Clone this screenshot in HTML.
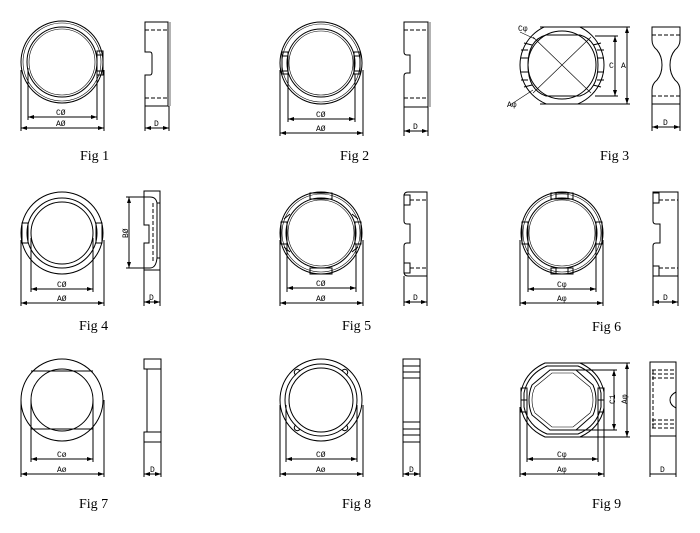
<!DOCTYPE html>
<html><head><meta charset="utf-8"><style>
html,body{margin:0;padding:0;background:#fff;width:700px;height:533px;overflow:hidden}
svg{display:block}
.l{fill:none;stroke:#000;stroke-width:1}
.t{stroke:#000;stroke-width:0.6;fill:none}
.d{fill:none;stroke:#000;stroke-width:1;stroke-dasharray:4 2}
.dim{font-family:"Liberation Mono",monospace;font-size:8px;fill:#000}
.fig{font-family:"Liberation Serif",serif;font-size:14px;fill:#000}
</style></head><body>
<svg width="700" height="533" viewBox="0 0 700 533" xmlns="http://www.w3.org/2000/svg">
<defs>
<marker id="a" markerWidth="6" markerHeight="4" refX="6" refY="2" orient="auto-start-reverse"><path d="M0,0 L6,2 L0,4 z" fill="#000"/></marker>
<clipPath id="c3"><rect x="500" y="27" width="120" height="77"/></clipPath>
</defs>

<!-- ===== Fig 1 ===== -->
<circle class="l" cx="62" cy="62" r="41"/>
<circle class="t" cx="62" cy="62" r="39"/>
<circle class="l" cx="62" cy="62" r="35"/>
<circle class="t" cx="62" cy="62" r="33"/>
<rect class="l" x="97" y="51" width="6" height="24"/>
<line class="l" x1="97" y1="55" x2="103" y2="55"/><line class="l" x1="97" y1="71" x2="103" y2="71"/>
<line class="l" x1="21" y1="70" x2="21" y2="131"/><line class="l" x1="104" y1="70" x2="104" y2="131"/>
<line class="l" x1="28" y1="68" x2="28" y2="120"/><line class="l" x1="97" y1="75" x2="97" y2="120"/>
<line class="l" x1="28" y1="117" x2="97" y2="117" marker-start="url(#a)" marker-end="url(#a)"/>
<line class="l" x1="21" y1="128" x2="104" y2="128" marker-start="url(#a)" marker-end="url(#a)"/>
<text class="dim" x="56" y="115">CØ</text><text class="dim" x="56" y="126">AØ</text>
<path class="l" d="M145,22 H168 V106 H145 V75 H150 Q152,75 152,72 V55 Q152,52 150,52 H145 Z"/>
<line class="t" x1="170" y1="22" x2="170" y2="106"/>
<line class="d" x1="145" y1="30" x2="168" y2="30"/><line class="d" x1="145" y1="98" x2="168" y2="98"/>
<line class="l" x1="145" y1="106" x2="145" y2="131"/><line class="l" x1="169" y1="106" x2="169" y2="131"/>
<line class="l" x1="145" y1="128" x2="169" y2="128" marker-start="url(#a)" marker-end="url(#a)"/>
<text class="dim" x="154" y="126">D</text>
<text class="fig" x="80" y="160">Fig 1</text>

<!-- ===== Fig 2 ===== -->
<circle class="l" cx="321" cy="63" r="41"/>
<circle class="t" cx="321" cy="63" r="39"/>
<circle class="l" cx="321" cy="63" r="34"/>
<circle class="t" cx="321" cy="63" r="32"/>
<rect class="l" x="282" y="52" width="6" height="22"/><rect class="l" x="354" y="52" width="6" height="22"/>
<line class="l" x1="282" y1="56" x2="288" y2="56"/><line class="l" x1="354" y1="56" x2="360" y2="56"/>
<line class="l" x1="282" y1="71" x2="288" y2="71"/><line class="l" x1="354" y1="71" x2="360" y2="71"/>
<line class="l" x1="280" y1="70" x2="280" y2="136"/><line class="l" x1="363" y1="70" x2="363" y2="136"/>
<line class="l" x1="288" y1="74" x2="288" y2="122"/><line class="l" x1="355" y1="74" x2="355" y2="122"/>
<line class="l" x1="288" y1="119" x2="355" y2="119" marker-start="url(#a)" marker-end="url(#a)"/>
<line class="l" x1="280" y1="133" x2="363" y2="133" marker-start="url(#a)" marker-end="url(#a)"/>
<text class="dim" x="316" y="117">CØ</text><text class="dim" x="316" y="131">AØ</text>
<path class="l" d="M404,22 H428 V107 H404 V76 Q404,73 407,73 H410 V55 H407 Q404,55 404,52 Z"/>
<line class="t" x1="430" y1="22" x2="430" y2="107"/>
<line class="d" x1="404" y1="30" x2="428" y2="30"/><line class="d" x1="404" y1="98" x2="428" y2="98"/>
<line class="l" x1="404" y1="107" x2="404" y2="136"/><line class="l" x1="428" y1="107" x2="428" y2="136"/>
<line class="l" x1="404" y1="131" x2="428" y2="131" marker-start="url(#a)" marker-end="url(#a)"/>
<text class="dim" x="413" y="129">D</text>
<text class="fig" x="340" y="160">Fig 2</text>

<!-- ===== Fig 3 ===== -->
<path class="l" d="M540,27 H604 M540,104 H604"/>
<circle class="l" cx="562" cy="65" r="42" clip-path="url(#c3)"/>
<circle class="l" cx="562" cy="65" r="34" clip-path="url(#c3)"/>
<path class="l" d="M546,35 H580 Q598,40 598,65 Q598,90 580,96 H546 Q528,90 528,65 Q528,40 546,35 Z"/>
<path class="l" d="M521,50 H528 M521,58 H528 M521,72 H528 M521,80 H528 M597,50 H604 M597,58 H604 M597,72 H604 M597,80 H604"/>
<path class="l" d="M524,43 L532,45 M524,87 L532,85 M601,43 L593,45 M601,87 L593,85" stroke-width="2"/>
<line class="t" x1="533" y1="37" x2="591" y2="93"/><line class="t" x1="591" y1="37" x2="533" y2="93"/>
<line class="t" x1="520" y1="32" x2="535" y2="39"/><line class="t" x1="510" y1="105" x2="533" y2="90"/>
<text class="dim" x="518" y="31">Cφ</text><text class="dim" x="507" y="107">Aφ</text>
<line class="l" x1="595" y1="36" x2="618" y2="36"/><line class="l" x1="595" y1="96" x2="618" y2="96"/>
<line class="l" x1="604" y1="27" x2="630" y2="27"/><line class="l" x1="604" y1="104" x2="630" y2="104"/>
<line class="l" x1="615" y1="36" x2="615" y2="96" marker-start="url(#a)" marker-end="url(#a)"/>
<line class="l" x1="627" y1="27" x2="627" y2="104" marker-start="url(#a)" marker-end="url(#a)"/>
<text class="dim" x="609" y="68">C</text><text class="dim" x="621" y="68">A</text>
<path class="l" d="M652,27 H680 V40 Q680,46 675,50 Q670,56 670,65 Q670,74 675,80 Q680,84 680,90 V104 H652 V90 Q652,84 657,80 Q662,74 662,65 Q662,56 657,50 Q652,46 652,40 Z"/>
<line class="d" x1="652" y1="35" x2="680" y2="35"/><line class="d" x1="652" y1="96" x2="680" y2="96"/>
<line class="l" x1="652" y1="104" x2="652" y2="131"/><line class="l" x1="680" y1="104" x2="680" y2="131"/>
<line class="l" x1="652" y1="127" x2="680" y2="127" marker-start="url(#a)" marker-end="url(#a)"/>
<text class="dim" x="663" y="125">D</text>
<text class="fig" x="600" y="160">Fig 3</text>

<!-- ===== Fig 4 ===== -->
<circle class="l" cx="62" cy="233" r="41"/>
<circle class="l" cx="62" cy="233" r="35"/>
<circle class="l" cx="62" cy="233" r="31"/>
<rect class="l" x="22" y="223" width="6" height="20"/><rect class="l" x="96" y="223" width="6" height="20"/>
<line class="l" x1="21" y1="240" x2="21" y2="306"/><line class="l" x1="104" y1="240" x2="104" y2="306"/>
<line class="l" x1="31" y1="238" x2="31" y2="292"/><line class="l" x1="93" y1="238" x2="93" y2="292"/>
<line class="l" x1="31" y1="289" x2="93" y2="289" marker-start="url(#a)" marker-end="url(#a)"/>
<line class="l" x1="21" y1="303" x2="104" y2="303" marker-start="url(#a)" marker-end="url(#a)"/>
<text class="dim" x="57" y="287">CØ</text><text class="dim" x="57" y="301">AØ</text>
<path class="l" d="M144,191 H160 V270 H144 V243 H149 V225 H144 Z"/>
<path class="l" d="M150,197 Q156,197 157,203 V258 Q156,268 150,268 M157,203 H160 M157,258 H160"/>
<line class="d" x1="153" y1="203" x2="153" y2="262"/>
<line class="l" x1="126" y1="197" x2="150" y2="197"/><line class="l" x1="126" y1="268" x2="150" y2="268"/>
<line class="l" x1="129" y1="197" x2="129" y2="268" marker-start="url(#a)" marker-end="url(#a)"/>
<text class="dim" x="122" y="238" transform="rotate(-90 125 235)">BØ</text>
<line class="l" x1="144" y1="270" x2="144" y2="306"/><line class="l" x1="160" y1="270" x2="160" y2="306"/>
<line class="l" x1="144" y1="302" x2="160" y2="302" marker-start="url(#a)" marker-end="url(#a)"/>
<text class="dim" x="149" y="300">D</text>
<text class="fig" x="79" y="330">Fig 4</text>

<!-- ===== Fig 5 ===== -->
<circle class="l" cx="321" cy="233" r="41"/>
<circle class="t" cx="321" cy="233" r="39"/>
<circle class="l" cx="321" cy="233" r="35"/>
<circle class="t" cx="321" cy="233" r="33"/>
<rect class="l" x="281" y="222" width="6" height="22"/><rect class="l" x="355" y="222" width="6" height="22"/>
<rect class="l" x="310" y="193" width="22" height="6"/><rect class="l" x="310" y="268" width="22" height="6"/>
<path class="l" d="M284,219 L290,214 M358,219 L352,214 M284,247 L290,252 M358,247 L352,252"/>
<line class="l" x1="280" y1="240" x2="280" y2="306"/><line class="l" x1="363" y1="240" x2="363" y2="306"/>
<line class="l" x1="287" y1="244" x2="287" y2="292"/><line class="l" x1="356" y1="244" x2="356" y2="292"/>
<line class="l" x1="287" y1="288" x2="356" y2="288" marker-start="url(#a)" marker-end="url(#a)"/>
<line class="l" x1="280" y1="303" x2="363" y2="303" marker-start="url(#a)" marker-end="url(#a)"/>
<text class="dim" x="316" y="286">CØ</text><text class="dim" x="316" y="301">AØ</text>
<path class="l" d="M404,196 Q404,192 408,192 H427 V276 H408 Q404,276 404,272 V246 Q404,243 407,243 H410 V224 H407 Q404,224 404,221 Z"/>
<rect class="l" x="404" y="195" width="6" height="10"/><rect class="l" x="404" y="263" width="6" height="10"/>
<line class="d" x1="410" y1="200" x2="427" y2="200"/><line class="d" x1="410" y1="268" x2="427" y2="268"/>
<line class="l" x1="404" y1="276" x2="404" y2="306"/><line class="l" x1="427" y1="276" x2="427" y2="306"/>
<line class="l" x1="404" y1="302" x2="427" y2="302" marker-start="url(#a)" marker-end="url(#a)"/>
<text class="dim" x="413" y="300">D</text>
<text class="fig" x="342" y="330">Fig 5</text>

<!-- ===== Fig 6 ===== -->
<circle class="l" cx="562" cy="233" r="41"/>
<circle class="t" cx="562" cy="233" r="39"/>
<circle class="l" cx="562" cy="233" r="35"/>
<circle class="t" cx="562" cy="233" r="33"/>
<rect class="l" x="522" y="222" width="6" height="22"/><rect class="l" x="596" y="222" width="6" height="22"/>
<rect class="l" x="551" y="193" width="22" height="6"/><rect class="l" x="551" y="268" width="22" height="6"/>
<path class="l" d="M556,193 V199 M568,193 V199 M556,268 V274 M568,268 V274"/>
<line class="l" x1="520" y1="240" x2="520" y2="306"/><line class="l" x1="603" y1="240" x2="603" y2="306"/>
<line class="l" x1="528" y1="244" x2="528" y2="292"/><line class="l" x1="596" y1="244" x2="596" y2="292"/>
<line class="l" x1="528" y1="289" x2="596" y2="289" marker-start="url(#a)" marker-end="url(#a)"/>
<line class="l" x1="520" y1="303" x2="603" y2="303" marker-start="url(#a)" marker-end="url(#a)"/>
<text class="dim" x="557" y="287">Cφ</text><text class="dim" x="557" y="301">Aφ</text>
<path class="l" d="M653,192 H678 V276 H653 V246 Q653,243 656,243 H660 V224 H656 Q653,224 653,221 Z"/>
<rect class="l" x="653" y="193" width="6" height="10"/><rect class="l" x="653" y="266" width="6" height="10"/>
<line class="d" x1="659" y1="200" x2="678" y2="200"/><line class="d" x1="659" y1="268" x2="678" y2="268"/>
<line class="l" x1="653" y1="276" x2="653" y2="306"/><line class="l" x1="678" y1="276" x2="678" y2="306"/>
<line class="l" x1="653" y1="302" x2="678" y2="302" marker-start="url(#a)" marker-end="url(#a)"/>
<text class="dim" x="663" y="300">D</text>
<text class="fig" x="592" y="331">Fig 6</text>

<!-- ===== Fig 7 ===== -->
<circle class="l" cx="62" cy="400" r="41"/>
<circle class="l" cx="62" cy="400" r="31"/>
<line class="l" x1="31" y1="371" x2="93" y2="371"/><line class="l" x1="31" y1="429" x2="93" y2="429"/>
<line class="l" x1="21" y1="400" x2="21" y2="477"/><line class="l" x1="104" y1="400" x2="104" y2="477"/>
<line class="l" x1="31" y1="400" x2="31" y2="462"/><line class="l" x1="93" y1="400" x2="93" y2="462"/>
<line class="l" x1="31" y1="459" x2="93" y2="459" marker-start="url(#a)" marker-end="url(#a)"/>
<line class="l" x1="21" y1="474" x2="104" y2="474" marker-start="url(#a)" marker-end="url(#a)"/>
<text class="dim" x="57" y="457">Cø</text><text class="dim" x="57" y="472">Aø</text>
<rect class="l" x="144" y="359" width="17" height="10"/><rect class="l" x="144" y="432" width="17" height="10"/>
<path class="l" d="M147,369 V432 M161,369 V432"/>
<line class="l" x1="144" y1="442" x2="144" y2="477"/><line class="l" x1="161" y1="442" x2="161" y2="477"/>
<line class="l" x1="144" y1="474" x2="161" y2="474" marker-start="url(#a)" marker-end="url(#a)"/>
<text class="dim" x="150" y="472">D</text>
<text class="fig" x="79" y="508">Fig 7</text>

<!-- ===== Fig 8 ===== -->
<circle class="l" cx="321" cy="400" r="41"/>
<circle class="l" cx="321" cy="400" r="36"/>
<circle class="l" cx="321" cy="400" r="32"/>
<path class="l" d="M296,375 a3,3 0 1,1 4,-4 M346,375 a3,3 0 1,0 -4,-4 M296,425 a3,3 0 1,0 4,4 M346,425 a3,3 0 1,1 -4,4"/>
<line class="l" x1="280" y1="405" x2="280" y2="477"/><line class="l" x1="363" y1="405" x2="363" y2="477"/>
<line class="l" x1="286" y1="405" x2="286" y2="462"/><line class="l" x1="357" y1="405" x2="357" y2="462"/>
<line class="l" x1="286" y1="459" x2="357" y2="459" marker-start="url(#a)" marker-end="url(#a)"/>
<line class="l" x1="280" y1="474" x2="363" y2="474" marker-start="url(#a)" marker-end="url(#a)"/>
<text class="dim" x="316" y="457">CØ</text><text class="dim" x="316" y="472">Aø</text>
<rect class="l" x="403" y="359" width="17" height="83"/>
<path class="l" d="M403,366 H420 M403,372 H420 M403,429 H420 M403,435 H420"/>
<path class="l" d="M403,378 H420 M403,422 H420" stroke-width="2"/>
<line class="l" x1="403" y1="442" x2="403" y2="477"/><line class="l" x1="420" y1="442" x2="420" y2="477"/>
<line class="l" x1="403" y1="474" x2="420" y2="474" marker-start="url(#a)" marker-end="url(#a)"/>
<text class="dim" x="409" y="472">D</text>
<text class="fig" x="342" y="508">Fig 8</text>

<!-- ===== Fig 9 ===== -->
<path class="l" d="M545,363 H580 Q600,372 604,392 V408 Q600,428 580,437 H545 Q525,428 521,408 V392 Q525,372 545,363 Z"/>
<path class="l" d="M547,366 H578 Q597,374 601,393 V407 Q597,426 578,434 H547 Q528,426 524,407 V393 Q528,374 547,366 Z"/>
<path class="l" d="M550,370 H576 L593,385 Q596,392 596,400 Q596,408 593,415 L576,430 H550 L532,415 Q529,408 529,400 Q529,392 532,385 Z"/>
<path class="t" d="M552,373 H573 L590,387 Q593,393 593,400 Q593,407 590,413 L573,427 H552 L535,413 Q532,407 532,400 Q532,393 535,387 Z"/>
<rect class="l" x="521" y="388" width="6" height="24"/><rect class="l" x="598" y="388" width="6" height="24"/>
<line class="l" x1="521" y1="400" x2="527" y2="400"/><line class="l" x1="598" y1="400" x2="604" y2="400"/>
<line class="l" x1="520" y1="407" x2="520" y2="477"/><line class="l" x1="604" y1="407" x2="604" y2="477"/>
<line class="l" x1="527" y1="407" x2="527" y2="462"/><line class="l" x1="598" y1="407" x2="598" y2="462"/>
<line class="l" x1="527" y1="459" x2="598" y2="459" marker-start="url(#a)" marker-end="url(#a)"/>
<line class="l" x1="520" y1="474" x2="604" y2="474" marker-start="url(#a)" marker-end="url(#a)"/>
<text class="dim" x="557" y="457">Cφ</text><text class="dim" x="557" y="472">Aφ</text>
<line class="l" x1="580" y1="363" x2="630" y2="363"/><line class="l" x1="580" y1="437" x2="630" y2="437"/>
<line class="l" x1="576" y1="370" x2="617" y2="370"/><line class="l" x1="576" y1="430" x2="617" y2="430"/>
<line class="l" x1="614" y1="370" x2="614" y2="430" marker-start="url(#a)" marker-end="url(#a)"/>
<line class="l" x1="627" y1="363" x2="627" y2="437" marker-start="url(#a)" marker-end="url(#a)"/>
<text class="dim" x="608" y="403" transform="rotate(-90 612 400)">C1</text>
<text class="dim" x="620" y="403" transform="rotate(-90 624 400)">Aφ</text>
<rect class="l" x="650" y="362" width="26" height="74"/>
<path class="d" d="M652,370 H676 M652,374 H676 M652,378 H676 M652,420 H676 M652,424 H676 M652,428 H676 M653,370 V428"/>
<path class="l" d="M676,392 Q670,395 670,400 Q670,405 676,408"/>
<line class="l" x1="650" y1="436" x2="650" y2="477"/><line class="l" x1="676" y1="436" x2="676" y2="477"/>
<line class="l" x1="650" y1="474" x2="676" y2="474"/>
<text class="dim" x="660" y="472" font-size="6">D</text>
<text class="fig" x="592" y="508">Fig 9</text>
</svg>
</body></html>
